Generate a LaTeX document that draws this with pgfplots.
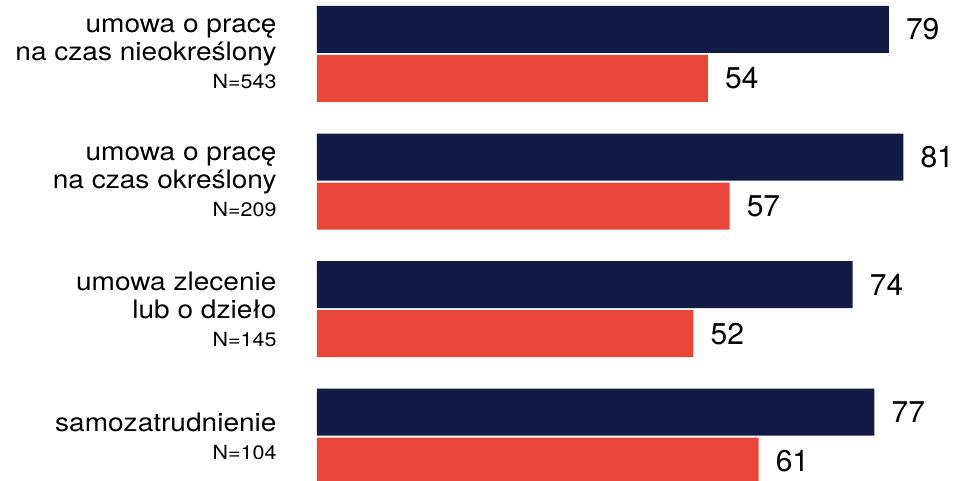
\documentclass[border=0pt]{standalone}
\usepackage{pgfplots}
\pgfplotsset{compat=1.18}
\usepackage{fontspec}
\setmainfont[FakeStretch=1.1]{TeX Gyre Heros}
\newfontfamily\valfont{TeX Gyre Heros}
\definecolor{navy}{HTML}{121A46}
\definecolor{cred}{HTML}{E84638}
\begin{document}
\begin{tikzpicture}
\begin{axis}[
  at={(0,0)}, anchor=south west,
  scale only axis,
  width=637pt, height=481pt,
  xbar, bar width=47pt,
  xmin=0, xmax=88,
  ymin=-0.3468, ymax=3.423,
  axis line style={draw=none},
  tick style={draw=none},
  xtick=\empty,
  ytick={0,1,2,3},
  yticklabels={
    {samozatrudnienie\\{\fontsize{19.5}{27}\selectfont N=104}},
    {umowa zlecenie\\lub o dzieło\\{\fontsize{19.5}{27}\selectfont N=145}},
    {umowa o pracę\\na czas określony\\{\fontsize{19.5}{27}\selectfont N=209}},
    {umowa o pracę\\na czas nieokreślony\\{\fontsize{19.5}{27}\selectfont N=543}}},
  yticklabel style={align=right, anchor=east, inner sep=0pt,
    font=\fontsize{25.5}{28}\selectfont},
  yticklabel shift=36pt,
  nodes near coords,
  /pgf/number format/assume math mode=true,
  every node near coord/.append style={font=\valfont\fontsize{30}{32}\selectfont,
    anchor=west, inner sep=0pt, xshift=17pt, text=black},
  clip=true,
]
\addplot[fill=navy, draw=none, bar shift=24.5pt] coordinates {(77,0) (74,1) (81,2) (79,3)};
\addplot[fill=cred, draw=none, bar shift=-24.5pt] coordinates {(61,0) (52,1) (57,2) (54,3)};
\end{axis}
\pgfresetboundingbox
\path[use as bounding box] (-317pt,0) rectangle (637pt,481pt);
\end{tikzpicture}
\end{document}
